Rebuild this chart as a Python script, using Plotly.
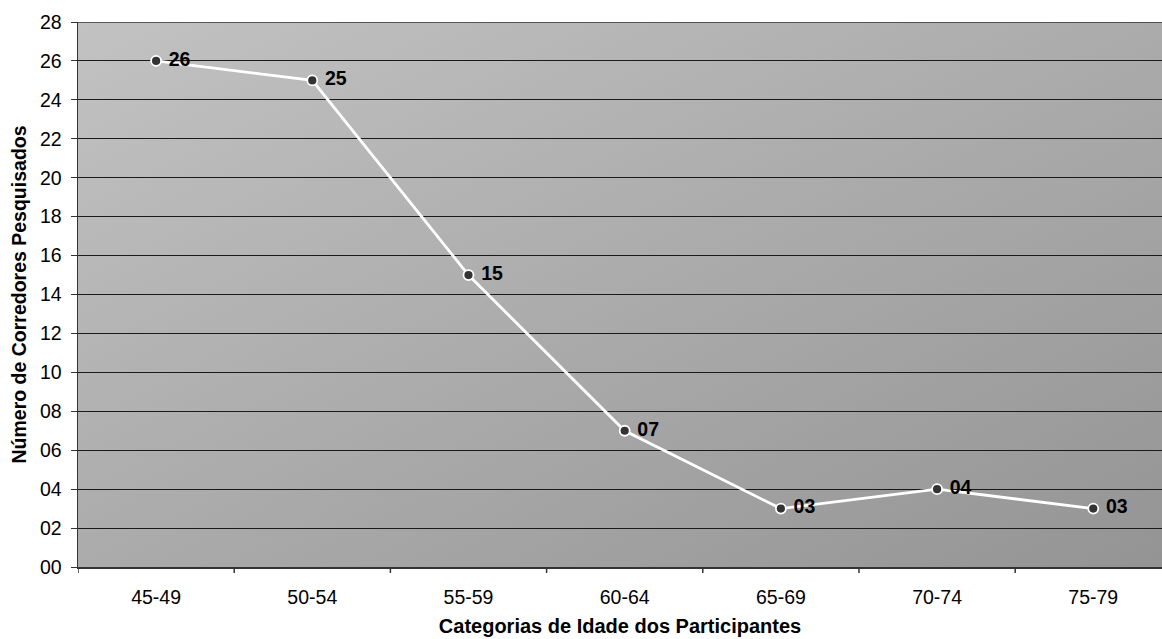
import base64
import plotly.graph_objects as go

categories = ["45-49", "50-54", "55-59", "60-64", "65-69", "70-74", "75-79"]
values = [26, 25, 15, 7, 3, 4, 3]
labels = ["26", "25", "15", "07", "03", "04", "03"]
y_ticks = list(range(0, 29, 2))

FONT = "Arial, Liberation Sans, sans-serif"

svg = ('<svg xmlns="http://www.w3.org/2000/svg" width="200" height="100" viewBox="0 0 200 100" '
       'preserveAspectRatio="none"><defs><linearGradient id="g" x1="0" y1="0" x2="1" y2="1">'
       '<stop offset="0" stop-color="#c2c2c2"/><stop offset="1" stop-color="#949494"/>'
       '</linearGradient></defs><rect width="200" height="100" fill="url(#g)"/></svg>')
svg_uri = "data:image/svg+xml;base64," + base64.b64encode(svg.encode()).decode()

fig = go.Figure()
fig.add_trace(go.Scatter(
    x=list(range(len(categories))), y=values,
    mode="lines+markers+text",
    line=dict(color="white", width=2.8),
    marker=dict(size=10, color="#333333", line=dict(color="white", width=1.8)),
    text=[" " + t for t in labels], textposition="middle right",
    textfont=dict(family=FONT, size=19.5, color="black", weight="bold"),
    cliponaxis=False, hoverinfo="skip",
))

fig.update_layout(
    width=1162, height=639,
    margin=dict(l=78, r=0, t=22, b=72),
    paper_bgcolor="white", plot_bgcolor="rgba(0,0,0,0)",
    showlegend=False,
    font=dict(family=FONT, size=19.5, color="black"),
    images=[dict(source=svg_uri, xref="paper", yref="paper", x=0, y=1,
                 sizex=1, sizey=1, sizing="stretch", layer="below",
                 xanchor="left", yanchor="top")],
    xaxis=dict(
        range=[-0.5, 6.44],
        tickmode="array", tickvals=list(range(len(categories))), ticktext=categories,
        showgrid=False, zeroline=False,
        showline=True, linecolor="#333333", linewidth=1.5,
        ticks="", tickfont=dict(size=19.5), ticklabelstandoff=12,
        title=dict(text="<b>Categorias de Idade dos Participantes</b>",
                   font=dict(size=20), standoff=12),
    ),
    yaxis=dict(
        range=[0, 28],
        tickmode="array", tickvals=y_ticks, ticktext=[f"{v:02d}" for v in y_ticks],
        showgrid=True, gridcolor="#1a1a1a", gridwidth=1,
        zeroline=False,
        showline=True, linecolor="#333333", linewidth=1.5,
        ticks="outside", ticklen=6, tickcolor="#333333", tickfont=dict(size=19.5),
        ticklabelstandoff=5,
        title=dict(text="<b>Número de Corredores Pesquisados</b>",
                   font=dict(size=19.5), standoff=8),
    ),
)

# category separator tick marks on the x axis
for i in range(len(categories) + 1):
    fig.add_shape(type="line", xref="x", yref="paper",
                  x0=i - 0.5, x1=i - 0.5, y0=0, y1=-0.011,
                  line=dict(color="#333333", width=1.5))

# top border line at the 28 gridline
fig.add_shape(type="line", xref="paper", yref="y", x0=0, x1=1, y0=28, y1=28,
              line=dict(color="#333333", width=1.5))

fig.write_html("out.html", config={"displayModeBar": False, "staticPlot": True},
               post_script="document.body.style.margin='0';")
